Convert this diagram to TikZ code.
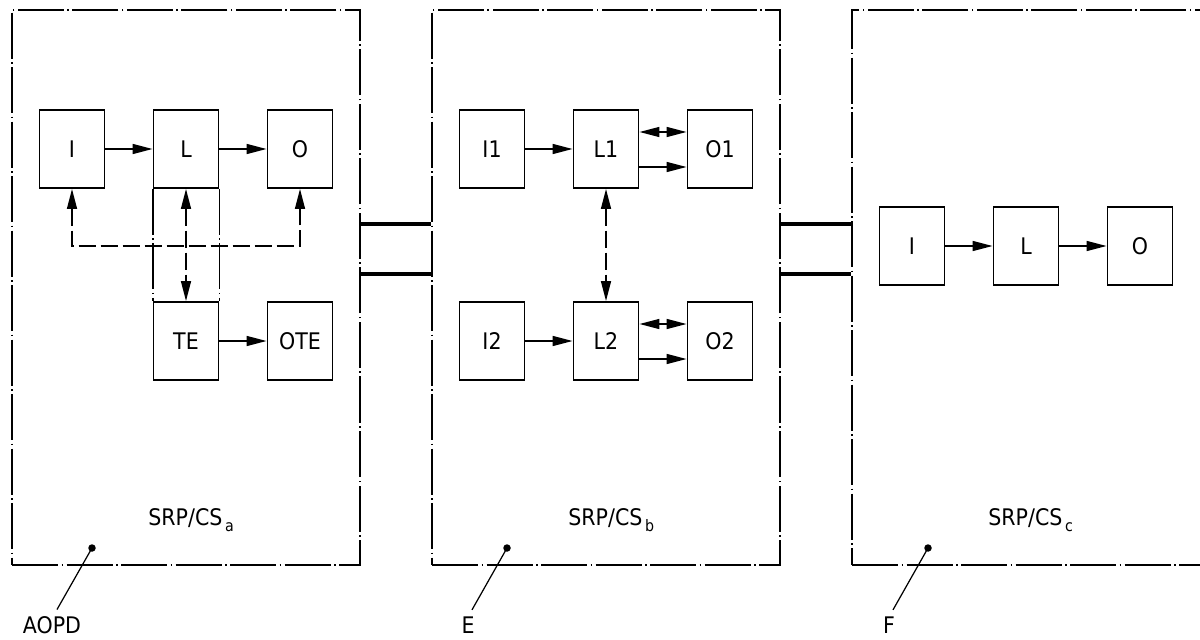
\documentclass[tikz,border=0pt]{standalone}
\usepackage{fontspec}
\setmainfont{DejaVu Sans}[FakeStretch=0.9]
\usepackage{tikz}
\usetikzlibrary{arrows.meta}
\definecolor{cizgiSiyah}{HTML}{000000}
\newcommand{\altIndis}[1]{\kern1.5pt\raisebox{-0.55ex}{\fontsize{9}{10}\selectfont #1}}
\tikzset{
  yazi/.style={font=\fontsize{13}{15}\selectfont},
  kutu/.style={draw=cizgiSiyah,line width=1.1pt,minimum width=1.3cm,minimum height=1.56cm,inner sep=0pt,yazi},
  cerceve/.style={draw=cizgiSiyah,line width=1.1pt,dash pattern=on 0.92cm off 0.07cm on 0.03cm off 0.07cm},
  ok/.style={-{Triangle[length=0.4cm,width=0.2cm]},line width=0.85pt,cizgiSiyah},
  ciftOk/.style={{Triangle[length=0.4cm,width=0.2cm]}-{Triangle[length=0.4cm,width=0.2cm]},line width=0.85pt,cizgiSiyah},
  kesikOk/.style={ciftOk,dash pattern=on 0.34cm off 0.1cm},
  baglanti/.style={line width=2pt,cizgiSiyah},
  etiket/.style={yazi,inner sep=0.14cm},
  sistemAdi/.style={yazi,anchor=base west,inner sep=0pt},
  isaretCizgi/.style={line width=0.7pt,cizgiSiyah}
}
\begin{document}
\begin{tikzpicture}
\useasboundingbox (0,0) rectangle (24,12.78);
\begin{scope}
\node[cerceve,minimum width=6.96cm,minimum height=11.1cm] (cerceveA) at (3.72,7.03) {};
\node[kutu] (Ia) at (1.44,9.8) {I};
\node[kutu] (La) at (3.72,9.8) {L};
\node[kutu] (Oa) at (6,9.8) {O};
\node[kutu] (TEa) at (3.72,5.96) {TE};
\node[kutu] (OTEa) at (6,5.96) {OTE};
\draw[ok] (Ia) -- (La);
\draw[ok] (La) -- (Oa);
\draw[ok] (TEa) -- (OTEa);
\draw[cerceve] (La.south west) -- (TEa.north west);
\draw[cerceve] (La.south east) -- (TEa.north east);
\draw[kesikOk] (Ia.south) -- ++(0,-1.14) -| (Oa.south);
\draw[kesikOk] (La) -- (TEa);
\node[sistemAdi] (srpA) at (2.96,2.28) {SRP/CS\altIndis{a}};
\coordinate (noktaA) at (1.84,1.82);
\fill[cizgiSiyah] (noktaA) circle (0.075);
\node[etiket] (adA) at (1.04,0.27) {AOPD};
\draw[isaretCizgi] (noktaA) -- ([xshift=0.1cm]adA.north);
\end{scope}
\begin{scope}[xshift=8.4cm]
\node[cerceve,minimum width=6.96cm,minimum height=11.1cm] (cerceveB) at (3.72,7.03) {};
\node[kutu] (I1) at (1.44,9.8) {I1};
\node[kutu] (L1) at (3.72,9.8) {L1};
\node[kutu] (O1) at (6,9.8) {O1};
\node[kutu] (I2) at (1.44,5.96) {I2};
\node[kutu] (L2) at (3.72,5.96) {L2};
\node[kutu] (O2) at (6,5.96) {O2};
\draw[ok] (I1) -- (L1);
\draw[ok] (I2) -- (L2);
\draw[ciftOk] ([yshift=0.34cm]L1.east) -- ([yshift=0.34cm]O1.west);
\draw[ok] ([yshift=-0.36cm]L1.east) -- ([yshift=-0.36cm]O1.west);
\draw[ciftOk] ([yshift=0.34cm]L2.east) -- ([yshift=0.34cm]O2.west);
\draw[ok] ([yshift=-0.36cm]L2.east) -- ([yshift=-0.36cm]O2.west);
\draw[kesikOk] (L1) -- (L2);
\node[sistemAdi] (srpB) at (2.96,2.28) {SRP/CS\altIndis{b}};
\coordinate (noktaB) at (1.74,1.82);
\fill[cizgiSiyah] (noktaB) circle (0.075);
\node[etiket] (adB) at (0.96,0.27) {E};
\draw[isaretCizgi] (noktaB) -- ([xshift=0.08cm]adB.north);
\end{scope}
\begin{scope}[xshift=16.8cm]
\node[cerceve,minimum width=7.6cm,minimum height=11.1cm] (cerceveC) at (4.04,7.03) {};
\node[kutu] (Ic) at (1.44,7.86) {I};
\node[kutu] (Lc) at (3.72,7.86) {L};
\node[kutu] (Oc) at (6,7.86) {O};
\draw[ok] (Ic) -- (Lc);
\draw[ok] (Lc) -- (Oc);
\node[sistemAdi] (srpC) at (2.96,2.28) {SRP/CS\altIndis{c}};
\coordinate (noktaC) at (1.76,1.82);
\fill[cizgiSiyah] (noktaC) circle (0.075);
\node[etiket] (adC) at (0.98,0.27) {F};
\draw[isaretCizgi] (noktaC) -- ([xshift=0.08cm]adC.north);
\end{scope}
\draw[baglanti] ([yshift=1.27cm]cerceveA.east) -- ([yshift=1.27cm]cerceveB.west);
\draw[baglanti] ([yshift=0.27cm]cerceveA.east) -- ([yshift=0.27cm]cerceveB.west);
\draw[baglanti] ([yshift=1.27cm]cerceveB.east) -- ([yshift=1.27cm]cerceveC.west);
\draw[baglanti] ([yshift=0.27cm]cerceveB.east) -- ([yshift=0.27cm]cerceveC.west);
\end{tikzpicture}
\end{document}
